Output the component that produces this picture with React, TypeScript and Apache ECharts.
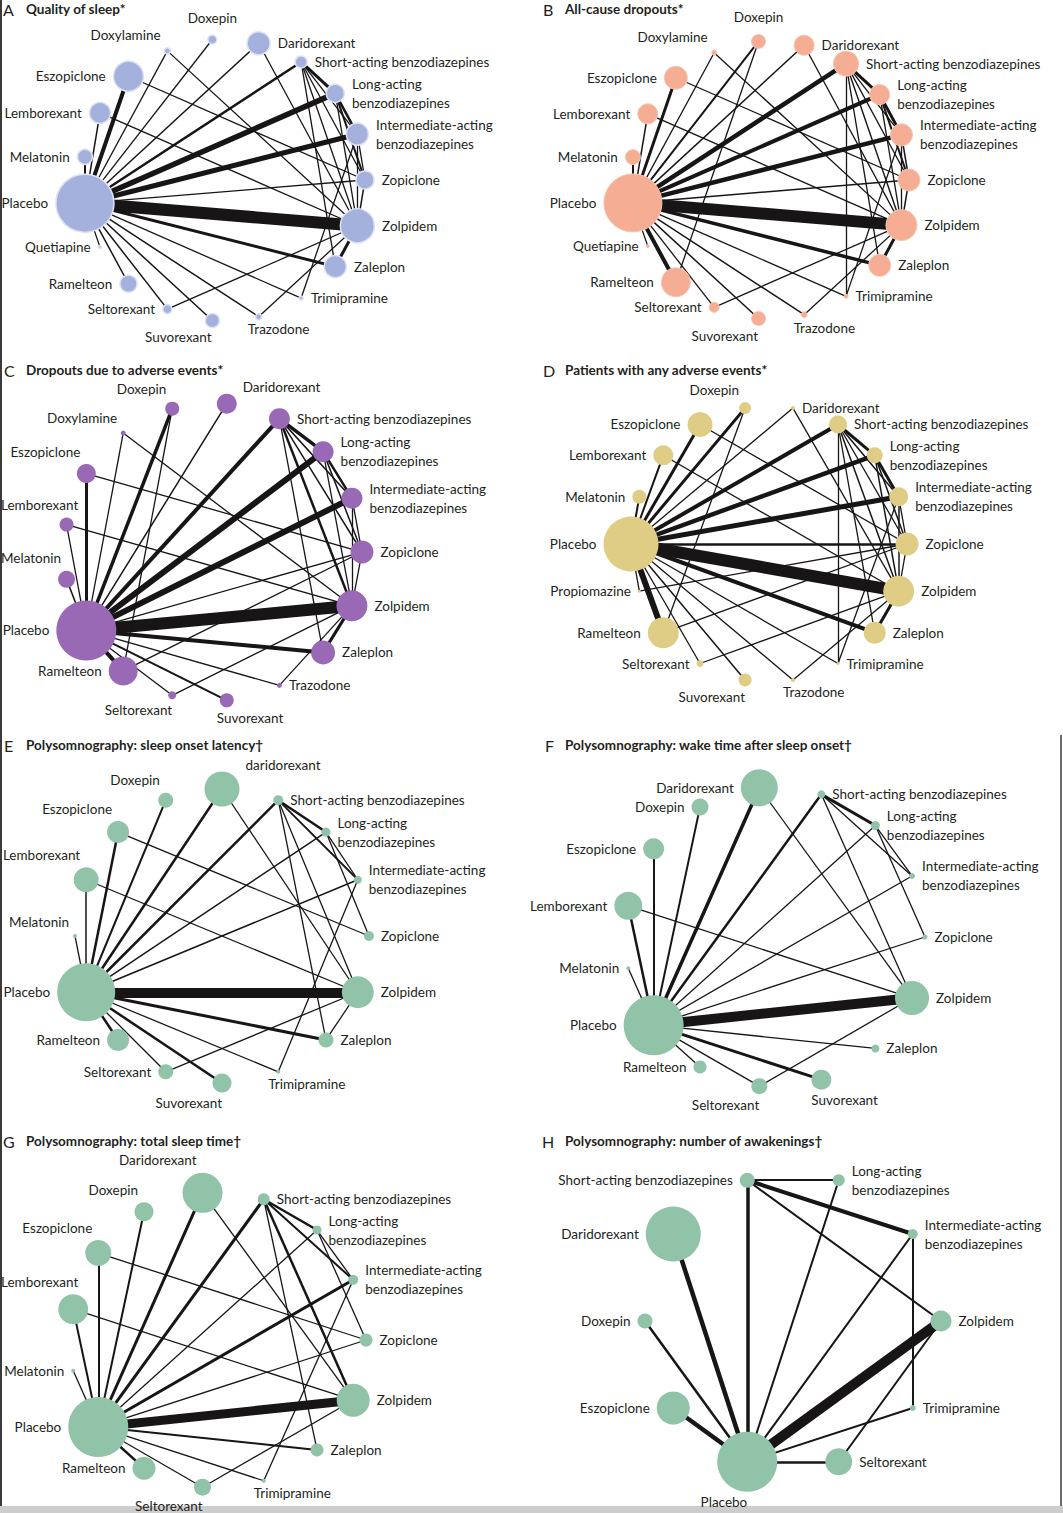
import React, { useEffect, useRef } from "react";
import * as echarts from "echarts";

// ---------- treatment names ----------
const DOX = "Doxepin";
const DAR = "Daridorexant";
const DAR_E = "daridorexant";
const SHORT = "Short-acting benzodiazepines";
const LONG = "Long-acting benzodiazepines";
const INT = "Intermediate-acting benzodiazepines";
const ZOP = "Zopiclone";
const ZOL = "Zolpidem";
const ZAL = "Zaleplon";
const TRIM = "Trimipramine";
const TRAZ = "Trazodone";
const SUV = "Suvorexant";
const SELT = "Seltorexant";
const RAM = "Ramelteon";
const QUET = "Quetiapine";
const PLAC = "Placebo";
const MEL = "Melatonin";
const LEM = "Lemborexant";
const ESZ = "Eszopiclone";
const DOXYL = "Doxylamine";
const PROP = "Propiomazine";

type Edge = [string, string, number];

// ---------- A: Quality of sleep ----------
const A_NODES = [DOX, DAR, SHORT, LONG, INT, ZOP, ZOL, ZAL, TRIM, TRAZ, SUV, SELT, RAM, QUET, PLAC, MEL, LEM, ESZ, DOXYL];
const A_SIZES = [9, 23, 12, 18, 22, 18, 34, 22, 4, 6, 14, 9, 17, 3, 58, 15, 21, 30, 6];
const A_EDGES: Edge[] = [
  [PLAC, ESZ, 4], [PLAC, LEM, 1.5], [PLAC, MEL, 2], [PLAC, DOXYL, 1.3], [PLAC, DOX, 1.3], [PLAC, DAR, 1.5],
  [PLAC, SHORT, 2.5], [PLAC, LONG, 5.5], [PLAC, INT, 5], [PLAC, ZOP, 1.3], [PLAC, ZOL, 12], [PLAC, ZAL, 3],
  [PLAC, TRIM, 1.3], [PLAC, TRAZ, 1.5], [PLAC, SUV, 1.5], [PLAC, SELT, 1.5], [PLAC, RAM, 1.5], [PLAC, QUET, 1.3],
  [DOXYL, ZOL, 1.3], [ESZ, ZOP, 1.3], [LEM, ZOL, 1.3], [DAR, ZOL, 1.3], [SELT, ZOL, 1.3], [TRAZ, ZOL, 1.3], [TRIM, INT, 1.3],
  [SHORT, LONG, 3], [SHORT, INT, 1.3], [SHORT, ZOP, 1.3], [SHORT, ZOL, 1.3], [SHORT, ZAL, 1.3],
  [LONG, INT, 2.5], [LONG, ZOP, 2], [LONG, ZOL, 1.3], [INT, ZOP, 1.3], [INT, ZOL, 1.3], [ZOP, ZOL, 1.5], [ZOL, ZAL, 3],
];

// ---------- B: All-cause dropouts ----------
const B_NODES = [DOX, DAR, SHORT, LONG, INT, ZOP, ZOL, ZAL, TRIM, TRAZ, SUV, SELT, RAM, QUET, PLAC, MEL, LEM, ESZ, DOXYL];
const B_SIZES = [14, 20, 25, 20, 22, 22, 31, 22, 4, 6, 14, 10, 29, 3, 58, 15, 20, 23, 5];
const B_EDGES: Edge[] = [
  [PLAC, ESZ, 3], [PLAC, LEM, 1.5], [PLAC, MEL, 2], [PLAC, DOXYL, 1.3], [PLAC, DOX, 2], [PLAC, DAR, 1.5],
  [PLAC, SHORT, 4.5], [PLAC, LONG, 4], [PLAC, INT, 4.5], [PLAC, ZOP, 1.5], [PLAC, ZOL, 12], [PLAC, ZAL, 3.5],
  [PLAC, TRIM, 1.3], [PLAC, TRAZ, 1.5], [PLAC, SUV, 1.5], [PLAC, SELT, 1.3], [PLAC, RAM, 4], [PLAC, QUET, 1.3],
  [DOX, RAM, 1.3], [DOXYL, ZOL, 1.3], [ESZ, ZOP, 1.3], [LEM, ZOL, 1.3], [DAR, ZOL, 1.3], [SELT, ZOL, 1.3],
  [TRAZ, ZOL, 1.3], [TRIM, INT, 1.3],
  [SHORT, LONG, 3], [SHORT, INT, 1.3], [SHORT, ZOP, 1.3], [SHORT, ZOL, 1.5], [SHORT, ZAL, 1.3], [SHORT, TRIM, 1.3],
  [LONG, INT, 3], [LONG, ZOP, 2], [LONG, ZOL, 1.3], [INT, ZOP, 1.5], [INT, ZOL, 1.3], [ZOP, ZOL, 1.5], [ZOL, ZAL, 3],
];

// ---------- C: Dropouts due to adverse events ----------
const C_NODES = [DAR, SHORT, LONG, INT, ZOP, ZOL, ZAL, TRAZ, SUV, SELT, RAM, PLAC, MEL, LEM, ESZ, DOXYL, DOX];
const C_SIZES = [20, 21, 21, 21, 23, 31, 24, 5, 14, 8, 29, 60, 17, 14, 19, 5, 14];
const C_EDGES: Edge[] = [
  [PLAC, MEL, 1.5], [PLAC, LEM, 1.3], [PLAC, ESZ, 3], [PLAC, DOXYL, 1.3], [PLAC, DOX, 3.5], [PLAC, DAR, 1.5],
  [PLAC, SHORT, 4], [PLAC, LONG, 6], [PLAC, INT, 6], [PLAC, ZOP, 1.3], [PLAC, ZOL, 12], [PLAC, ZAL, 4],
  [PLAC, TRAZ, 1.3], [PLAC, SUV, 2], [PLAC, SELT, 1.3], [PLAC, RAM, 4],
  [DOX, RAM, 1.3], [DOXYL, ZOL, 1.3], [ESZ, ZOP, 1.3], [LEM, ZOL, 1.3], [RAM, ZOP, 1.3], [SELT, ZOL, 1.3], [TRAZ, ZOL, 1.3],
  [SHORT, LONG, 3.5], [SHORT, INT, 1.5], [SHORT, ZOP, 1.5], [SHORT, ZOL, 2.5], [SHORT, ZAL, 1.3],
  [LONG, INT, 2.5], [LONG, ZOP, 1.5], [LONG, ZOL, 1.3], [INT, ZOP, 1.3], [INT, ZOL, 1.3], [ZOP, ZOL, 1.3], [ZOL, ZAL, 3],
];

// ---------- D: Patients with any adverse events ----------
const D_NODES = [DAR, SHORT, LONG, INT, ZOP, ZOL, ZAL, TRIM, TRAZ, SUV, SELT, RAM, PROP, PLAC, MEL, LEM, ESZ, DOX];
const D_SIZES = [4, 18, 16, 19, 23, 31, 22, 3, 4, 13, 7, 31, 3, 55, 14, 20, 25, 12];
const D_EDGES: Edge[] = [
  [PLAC, MEL, 2], [PLAC, LEM, 2], [PLAC, ESZ, 3], [PLAC, DOX, 3], [PLAC, DAR, 1.3], [PLAC, SHORT, 4],
  [PLAC, LONG, 4.5], [PLAC, INT, 5], [PLAC, ZOP, 2.5], [PLAC, ZOL, 12], [PLAC, ZAL, 4], [PLAC, TRIM, 1.3],
  [PLAC, TRAZ, 1.3], [PLAC, SUV, 1.5], [PLAC, SELT, 1.3], [PLAC, RAM, 6], [PLAC, PROP, 1.3],
  [DOX, RAM, 1.3], [DAR, ZOL, 1.3], [ESZ, ZOP, 1.3], [LEM, ZOL, 1.3], [PROP, ZOP, 1.3], [RAM, ZOP, 1.3],
  [SELT, ZOL, 1.3], [TRAZ, ZOL, 1.3], [TRIM, INT, 1.3],
  [SHORT, LONG, 3], [SHORT, INT, 1.5], [SHORT, ZOP, 1.3], [SHORT, ZOL, 1.5], [SHORT, ZAL, 1.3], [SHORT, TRIM, 1.3],
  [LONG, INT, 3], [LONG, ZOP, 1.5], [LONG, ZOL, 1.5], [INT, ZOP, 1.3], [INT, ZOL, 1.5], [ZOP, ZOL, 1.3], [ZOL, ZAL, 3],
];

// ---------- E: PSG sleep onset latency ----------
const E_NODES = [DAR_E, SHORT, LONG, INT, ZOP, ZOL, ZAL, TRIM, SUV, SELT, RAM, PLAC, MEL, LEM, ESZ, DOX];
const E_SIZES = [35, 10, 9, 8, 10, 32, 15, 4, 19, 15, 22, 58, 4, 25, 22, 15];
const E_EDGES: Edge[] = [
  [PLAC, MEL, 1.3], [PLAC, LEM, 1.5], [PLAC, ESZ, 2.5], [PLAC, DOX, 2], [PLAC, DAR_E, 2.5], [PLAC, SHORT, 2.5],
  [PLAC, LONG, 1.5], [PLAC, INT, 1.5], [PLAC, ZOL, 10], [PLAC, ZAL, 3], [PLAC, TRIM, 1.3], [PLAC, SUV, 2.5],
  [PLAC, SELT, 1.3], [PLAC, RAM, 2.5],
  [ESZ, ZOP, 1.3], [LEM, ZOL, 1.3], [DAR_E, ZOL, 1.3], [SELT, ZOL, 1.3], [TRIM, INT, 1.3],
  [SHORT, LONG, 2.5], [SHORT, INT, 1.8], [SHORT, ZOL, 1.3], [SHORT, ZAL, 1.3],
  [LONG, INT, 1.3], [LONG, ZOP, 1.3], [ZOL, ZAL, 1.3],
];

// ---------- F: PSG wake time after sleep onset ----------
const F_NODES = [DAR, SHORT, LONG, INT, ZOP, ZOL, ZAL, SUV, SELT, RAM, PLAC, MEL, LEM, ESZ, DOX];
const F_SIZES = [37, 8, 9, 6, 5, 34, 8, 20, 16, 13, 60, 4, 28, 21, 17];
const F_EDGES: Edge[] = [
  [PLAC, MEL, 1.3], [PLAC, LEM, 2.5], [PLAC, ESZ, 2], [PLAC, DOX, 2], [PLAC, DAR, 3.5], [PLAC, SHORT, 2.5],
  [PLAC, LONG, 1.3], [PLAC, INT, 1.3], [PLAC, ZOP, 1.3], [PLAC, ZOL, 10], [PLAC, ZAL, 1.3], [PLAC, SUV, 3],
  [PLAC, SELT, 1.3], [PLAC, RAM, 1.3],
  [LEM, ZOL, 1.3], [DAR, ZOL, 1.3], [SELT, ZOL, 1.3],
  [SHORT, LONG, 3], [SHORT, INT, 1.3], [SHORT, ZOL, 1.3], [LONG, INT, 1.3], [LONG, ZOP, 1.3],
];

// ---------- G: PSG total sleep time ----------
const G_NODES = [DAR, SHORT, LONG, INT, ZOP, ZOL, ZAL, TRIM, SELT, RAM, PLAC, MEL, LEM, ESZ, DOX];
const G_SIZES = [40, 12, 9, 10, 13, 33, 13, 4, 17, 23, 60, 4, 30, 26, 19];
const G_EDGES: Edge[] = [
  [PLAC, MEL, 1.3], [PLAC, LEM, 2], [PLAC, ESZ, 2], [PLAC, DOX, 2], [PLAC, DAR, 3], [PLAC, SHORT, 3],
  [PLAC, LONG, 1.3], [PLAC, INT, 3], [PLAC, ZOP, 1.3], [PLAC, ZOL, 9], [PLAC, ZAL, 2], [PLAC, TRIM, 1.3],
  [PLAC, SELT, 1.3], [PLAC, RAM, 2.5],
  [ESZ, ZOP, 1.3], [LEM, ZOL, 1.3], [DAR, ZOL, 1.3], [SELT, ZOL, 1.3], [TRIM, INT, 1.3],
  [SHORT, LONG, 2.5], [SHORT, INT, 2], [SHORT, ZOL, 2.5], [SHORT, ZAL, 1.3], [LONG, INT, 1.3], [LONG, ZOP, 1.3],
];

// ---------- H: PSG number of awakenings ----------
const H_NODES = [SHORT, LONG, INT, ZOL, TRIM, SELT, PLAC, ESZ, DOX, DAR];
const H_SIZES = [15, 12, 10, 21, 6, 27, 60, 33, 15, 55];
const H_EDGES: Edge[] = [
  [SHORT, LONG, 2], [SHORT, INT, 4], [SHORT, ZOL, 2], [SHORT, PLAC, 3.5], [LONG, PLAC, 2], [INT, PLAC, 2],
  [INT, TRIM, 2], [ZOL, PLAC, 10], [ZOL, SELT, 2], [TRIM, PLAC, 2], [SELT, PLAC, 2.5], [ESZ, PLAC, 4.5],
  [DOX, PLAC, 2.5], [DAR, PLAC, 4.5],
];

const PANELS = [
  { letter: "A", title: "Quality of sleep*", nodes: A_NODES, sizes: A_SIZES, edges: A_EDGES },
  { letter: "B", title: "All-cause dropouts*", nodes: B_NODES, sizes: B_SIZES, edges: B_EDGES },
  { letter: "C", title: "Dropouts due to adverse events*", nodes: C_NODES, sizes: C_SIZES, edges: C_EDGES },
  { letter: "D", title: "Patients with any adverse events*", nodes: D_NODES, sizes: D_SIZES, edges: D_EDGES },
  { letter: "E", title: "Polysomnography: sleep onset latency\u2020", nodes: E_NODES, sizes: E_SIZES, edges: E_EDGES },
  { letter: "F", title: "Polysomnography: wake time after sleep onset\u2020", nodes: F_NODES, sizes: F_SIZES, edges: F_EDGES },
  { letter: "G", title: "Polysomnography: total sleep time\u2020", nodes: G_NODES, sizes: G_SIZES, edges: G_EDGES },
  { letter: "H", title: "Polysomnography: number of awakenings\u2020", nodes: H_NODES, sizes: H_SIZES, edges: H_EDGES },
];

// ---------- layout & style (kept apart from the data) ----------
// aboveLeft: angle (deg, clockwise from 12 o'clock) from which upper-left labels sit above-left of their node
const LAYOUT = [
  { cx: 224, cy: 180, r: 141, first: -4.74, color: "#a4b1dc", border: "#dce1f4", bw: 1.5, lx: 3, tx: 26, ty: 9, aboveLeft: 330 },
  { cx: 770, cy: 180, r: 139, first: -4.74, color: "#f5ad94", border: "#f8c6b4", bw: 1, lx: 543, tx: 565, ty: 9, aboveLeft: 330 },
  { cx: 213, cy: 552, r: 149, first: 5.3, color: "#9a69b6", border: "#9a69b6", bw: 0, lx: 4, tx: 26, ty: 370, aboveLeft: 255 },
  { cx: 769, cy: 544, r: 138, first: 10, color: "#dfcd86", border: "#dfcd86", bw: 0, lx: 543, tx: 565, ty: 370, aboveLeft: 340 },
  { cx: 222, cy: 936, r: 147, first: 0, color: "#90c3a8", border: "#90c3a8", bw: 0, lx: 4, tx: 26, ty: 745, aboveLeft: 265 },
  { cx: 775, cy: 937, r: 150, first: -6, color: "#90c3a8", border: "#90c3a8", bw: 0, lx: 545, tx: 565, ty: 745, aboveLeft: 999 },
  { cx: 218, cy: 1340, r: 148, first: -6, color: "#90c3a8", border: "#90c3a8", bw: 0, lx: 3, tx: 26, ty: 1141, aboveLeft: 280 },
  { cx: 793, cy: 1321, r: 148, first: -18, color: "#90c3a8", border: "#90c3a8", bw: 0, lx: 542, tx: 565, ty: 1141, aboveLeft: 999 },
];

const LABELS: Record<string, string> = {
  [LONG]: "Long-acting\nbenzodiazepines",
  [INT]: "Intermediate-acting\nbenzodiazepines",
};

const FONT = "Lato";
const FONT_SIZE = 13.5;
const TEXT = "#231f20";

let measureCtx: CanvasRenderingContext2D | null = null;
function textWidth(s: string): number {
  if (!measureCtx) {
    const c = document.createElement("canvas");
    measureCtx = c.getContext("2d");
  }
  if (!measureCtx) return s.length * 6.8;
  measureCtx.font = `${FONT_SIZE}px ${FONT}`;
  return measureCtx.measureText(s).width;
}

// label placement around the ring, from the node's angle (clockwise from 12 o'clock)
function labelFor(theta: number, s: number, nodeX: number, name: string, aboveLeft: number): any {
  const t = ((theta % 360) + 360) % 360;
  if (t >= aboveLeft && t <= 354.2) {
    const w = textWidth(name);
    let right = nodeX - 6;
    if (right - w < 1) right = w + 1;
    return { position: [right - (nodeX - s / 2), -3], align: "right", verticalAlign: "bottom" };
  }
  if (t >= 354.5 && t < 359) return { position: "top" };
  if (t < 8) return { position: [s + 6, 3], align: "left", verticalAlign: "bottom" };
  if (t < 155) return { position: "right" };
  if (t < 180) {
    if (s > 25) return { position: "right" };
    return { position: [s / 2 - 10, s + 1], align: "left", verticalAlign: "top" };
  }
  if (t <= 200) return { position: [s / 2, s + 1], align: "right", verticalAlign: "top" };
  return { position: "left" };
}

function buildOption() {
  const polar: any[] = [];
  const angleAxis: any[] = [];
  const radiusAxis: any[] = [];
  const series: any[] = [];
  const graphic: any[] = [];

  PANELS.forEach((p, i) => {
    const L = LAYOUT[i];
    const n = p.nodes.length;
    const step = 360 / n;
    polar.push({ center: [L.cx, L.cy], radius: [0, L.r] });
    angleAxis.push({
      polarIndex: i,
      type: "category",
      data: p.nodes,
      boundaryGap: true,
      clockwise: true,
      startAngle: 90 + step / 2 - L.first,
      show: false,
      axisLine: { show: false },
      axisTick: { show: false },
      axisLabel: { show: false },
      splitLine: { show: false },
    });
    radiusAxis.push({
      polarIndex: i,
      type: "value",
      min: 0,
      max: 1,
      show: false,
      axisLine: { show: false },
      axisTick: { show: false },
      axisLabel: { show: false },
      splitLine: { show: false },
    });
    series.push({
      type: "graph",
      coordinateSystem: "polar",
      polarIndex: i,
      layout: "none",
      roam: false,
      silent: true,
      symbol: "circle",
      edgeSymbol: ["none", "none"],
      data: p.nodes.map((name, k) => {
        const theta = L.first + k * step;
        const nodeX = L.cx + L.r * Math.sin((theta * Math.PI) / 180);
        return {
          name,
          value: [1, k],
          symbolSize: p.sizes[k],
          label: labelFor(theta, p.sizes[k], nodeX, LABELS[name] ?? name, L.aboveLeft),
        };
      }),
      links: p.edges.map(([s, t, w]) => ({ source: s, target: t, lineStyle: { width: w } })),
      itemStyle: { color: L.color, borderColor: L.border, borderWidth: L.bw },
      lineStyle: { color: "#171515", opacity: 1, curveness: 0 },
      label: {
        show: true,
        distance: 7,
        fontFamily: FONT,
        fontSize: FONT_SIZE,
        lineHeight: 19,
        color: TEXT,
        formatter: (pp: any) => LABELS[pp.name] ?? pp.name,
      },
      emphasis: { disabled: true },
    });
    graphic.push({
      type: "text",
      x: L.lx,
      y: L.ty,
      style: { text: p.letter, font: `16px ${FONT}`, fill: TEXT, verticalAlign: "middle" },
    });
    graphic.push({
      type: "text",
      x: L.tx,
      y: L.ty,
      style: { text: p.title, font: `bold 13.5px ${FONT}`, fill: TEXT, verticalAlign: "middle" },
    });
  });

  graphic.push({ type: "line", shape: { x1: 1, y1: 0, x2: 1, y2: 1506 }, style: { stroke: "#3a3a3a", lineWidth: 2 } });
  graphic.push({ type: "line", shape: { x1: 1061, y1: 735, x2: 1061, y2: 1506 }, style: { stroke: "#3a3a3a", lineWidth: 1.5 } });
  graphic.push({ type: "rect", shape: { x: 0, y: 1506, width: 1063, height: 7 }, style: { fill: "#cdcdcd" } });

  return {
    animation: false,
    backgroundColor: "#ffffff",
    polar,
    angleAxis,
    radiusAxis,
    series,
    graphic,
  };
}

export default function App() {
  const ref = useRef<HTMLDivElement>(null);
  useEffect(() => {
    if (!ref.current) return;
    const chart = echarts.init(ref.current, undefined, { renderer: "svg" });
    chart.setOption(buildOption() as any);
    return () => chart.dispose();
  }, []);
  return (
    <div
      ref={ref}
      style={{ position: "absolute", left: 0, top: 0, width: 1063, height: 1513, background: "#fff" }}
    />
  );
}
